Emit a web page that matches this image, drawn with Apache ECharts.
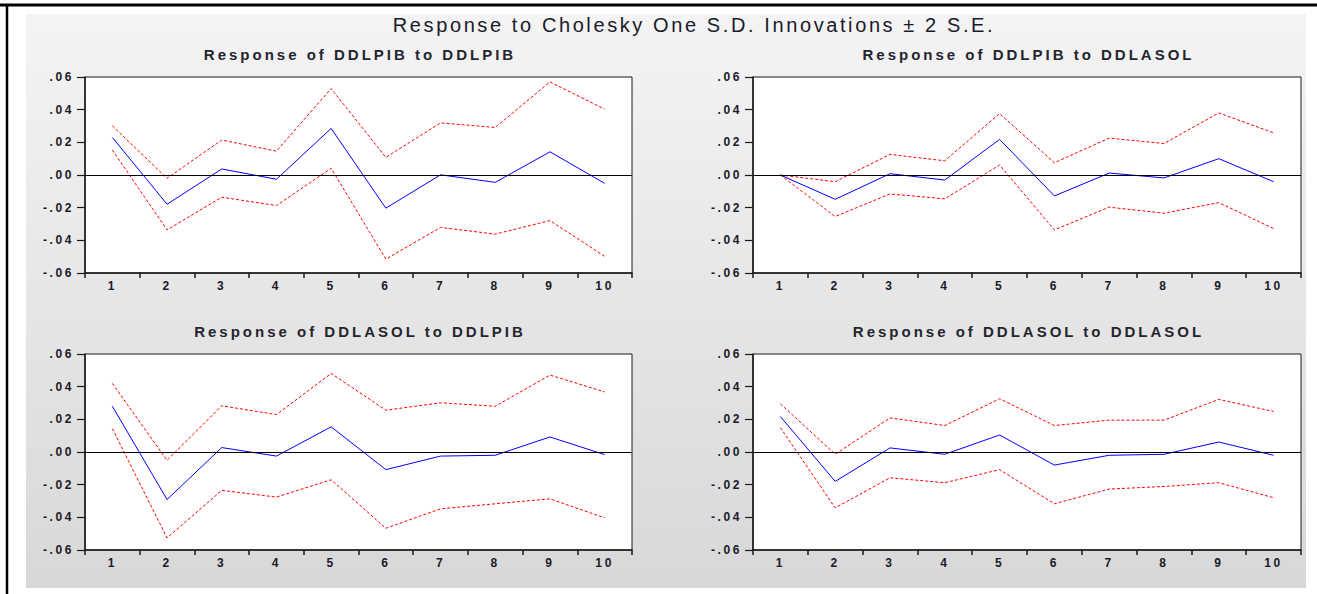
<!DOCTYPE html>
<html>
<head>
<meta charset="utf-8">
<script src="https://cdn.jsdelivr.net/npm/echarts@6/dist/echarts.min.js"></script>
<style>
html,body{margin:0;padding:0;background:#fff;}
#chart{width:1317px;height:594px;}
#chart text[style*="20px"]{letter-spacing:2.6px;}
#chart text[style*="15px"]{letter-spacing:3px;}
#chart text[style*="12px"]{letter-spacing:2.6px;}
</style>
</head>
<body>
<div id="chart"></div>
<script>
// ---- data ----
const steps = ['1','2','3','4','5','6','7','8','9','10'];
const yTickMin = -0.06, yTickMax = 0.06, yTickStep = 0.02;

const mainTitle = 'Response to Cholesky One S.D. Innovations \u00B1 2 S.E.';
const panelTitles = [
  'Response of DDLPIB to DDLPIB',
  'Response of DDLPIB to DDLASOL',
  'Response of DDLASOL to DDLPIB',
  'Response of DDLASOL to DDLASOL'
];

// Response of DDLPIB to DDLPIB
const pibPibResp  = [0.0230, -0.0179, 0.0037, -0.0026, 0.0285, -0.0203, 0.0001, -0.0045, 0.0142, -0.0051];
const pibPibUpper = [0.0301, -0.0020, 0.0214, 0.0146, 0.0529, 0.0108, 0.0319, 0.0291, 0.0570, 0.0403];
const pibPibLower = [0.0153, -0.0336, -0.0136, -0.0187, 0.0041, -0.0515, -0.0321, -0.0362, -0.0279, -0.0498];

// Response of DDLPIB to DDLASOL
const pibSolResp  = [0.0000, -0.0149, 0.0008, -0.0031, 0.0218, -0.0128, 0.0012, -0.0018, 0.0100, -0.0041];
const pibSolUpper = [0.0000, -0.0041, 0.0126, 0.0087, 0.0376, 0.0075, 0.0226, 0.0193, 0.0380, 0.0258];
const pibSolLower = [0.0000, -0.0254, -0.0116, -0.0146, 0.0061, -0.0336, -0.0197, -0.0234, -0.0169, -0.0328];

// Response of DDLASOL to DDLPIB
const solPibResp  = [0.0280, -0.0291, 0.0027, -0.0025, 0.0154, -0.0108, -0.0025, -0.0020, 0.0092, -0.0016];
const solPibUpper = [0.0420, -0.0051, 0.0283, 0.0229, 0.0481, 0.0256, 0.0301, 0.0280, 0.0471, 0.0368];
const solPibLower = [0.0143, -0.0526, -0.0235, -0.0276, -0.0170, -0.0467, -0.0348, -0.0317, -0.0287, -0.0403];

// Response of DDLASOL to DDLASOL
const solSolResp  = [0.0217, -0.0180, 0.0025, -0.0014, 0.0104, -0.0080, -0.0020, -0.0014, 0.0061, -0.0020];
const solSolUpper = [0.0295, -0.0014, 0.0209, 0.0162, 0.0326, 0.0162, 0.0195, 0.0195, 0.0322, 0.0248];
const solSolLower = [0.0149, -0.0342, -0.0158, -0.0188, -0.0108, -0.0317, -0.0227, -0.0211, -0.0188, -0.0280];

const panels = [
  [pibPibResp, pibPibUpper, pibPibLower],
  [pibSolResp, pibSolUpper, pibSolLower],
  [solPibResp, solPibUpper, solPibLower],
  [solSolResp, solSolUpper, solSolLower]
];

// ---- layout / style ----
const FONT = '"Liberation Sans", Arial, sans-serif';
const TXT = '#1a1a2a';
const grids = [
  {left: 85,  top: 77,  width: 547, height: 196},
  {left: 753, top: 77,  width: 548, height: 196},
  {left: 85,  top: 354, width: 547, height: 196},
  {left: 753, top: 354, width: 548, height: 196}
];

function fmtTick(v) {
  const s = Math.abs(v).toFixed(2).replace(/^0/, '');
  return (v < -1e-9 ? '-' : '') + s;
}

const chart = echarts.init(document.getElementById('chart'), null, {renderer: 'svg'});

const xAxes = [], yAxes = [], series = [], graphics = [];

graphics.push({
  type: 'rect', z: -10, silent: true,
  shape: {x: 26, y: 14, width: 1280, height: 574},
  style: {fill: new echarts.graphic.LinearGradient(0, 0, 0, 1, [
    {offset: 0, color: '#f4f4f4'}, {offset: 1, color: '#d8d8d8'}
  ])}
});
graphics.push({type: 'line', z: 10, silent: true, shape: {x1: 0, y1: 5, x2: 1317, y2: 5}, style: {stroke: '#000', lineWidth: 3}});
graphics.push({type: 'line', z: 10, silent: true, shape: {x1: 7, y1: 4, x2: 7, y2: 594}, style: {stroke: '#000', lineWidth: 2.5}});
graphics.push({
  type: 'text', x: 694, y: 25, silent: true,
  style: {text: mainTitle, font: '20px ' + FONT, fill: TXT, textAlign: 'center', textVerticalAlign: 'middle', verticalAlign: 'middle'}
});

grids.forEach((g, i) => {
  graphics.push({
    type: 'text', x: g.left + g.width / 2 + 1.5, y: g.top - 23, silent: true,
    style: {text: panelTitles[i], font: 'bold 15px ' + FONT, fill: '#25252f', textAlign: 'center', textVerticalAlign: 'middle', verticalAlign: 'middle'}
  });
  xAxes.push({
    type: 'category', gridIndex: i, data: steps, boundaryGap: true,
    axisLine: {show: true, onZero: false, lineStyle: {color: '#1a1a1a', width: 1.5}},
    axisTick: {show: true, alignWithLabel: false, inside: false, length: 5, interval: 0, lineStyle: {color: '#1a1a1a', width: 1.5}},
    axisLabel: {interval: 0, margin: 7, color: TXT, fontFamily: FONT, fontSize: 12, fontWeight: 'bold'},
    splitLine: {show: false}
  });
  yAxes.push({
    type: 'value', gridIndex: i, min: yTickMin, max: yTickMax, interval: yTickStep,
    axisLine: {show: true, onZero: false, lineStyle: {color: '#1a1a1a', width: 1.5}},
    axisTick: {show: true, inside: false, length: 8, lineStyle: {color: '#1a1a1a', width: 1.2}},
    axisLabel: {margin: 11, color: TXT, fontFamily: FONT, fontSize: 12, fontWeight: 'bold', formatter: fmtTick},
    splitLine: {show: false}
  });
  const [resp, up, lo] = panels[i];
  const dashed = {color: '#ff0000', width: 1, type: [3, 2]};
  series.push({type: 'line', xAxisIndex: i, yAxisIndex: i, data: up, symbol: 'none', lineStyle: dashed, silent: true, z: 3});
  series.push({type: 'line', xAxisIndex: i, yAxisIndex: i, data: lo, symbol: 'none', lineStyle: dashed, silent: true, z: 3});
  series.push({
    type: 'line', xAxisIndex: i, yAxisIndex: i, data: resp, symbol: 'none', silent: true, z: 4,
    lineStyle: {color: '#0000ff', width: 1},
    markLine: {silent: true, symbol: 'none', label: {show: false}, lineStyle: {color: '#000', width: 1, type: 'solid'}, data: [{yAxis: 0}]}
  });
});

chart.setOption({
  animation: false,
  backgroundColor: '#fff',
  grid: grids.map(g => Object.assign({show: true, backgroundColor: '#fff', borderColor: '#1a1a1a', borderWidth: 1, containLabel: false}, g)),
  xAxis: xAxes,
  yAxis: yAxes,
  series: series,
  graphic: graphics
});
</script>
</body>
</html>
